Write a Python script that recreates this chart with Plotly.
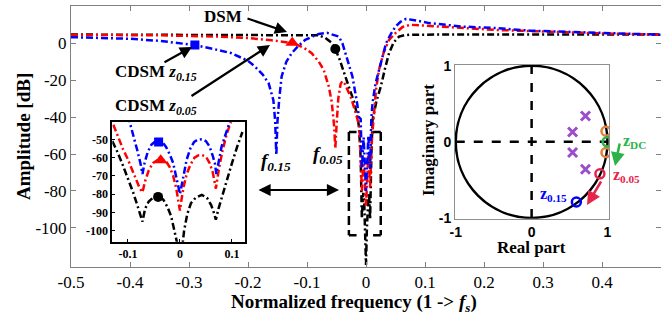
import plotly.graph_objects as go

# ---------------- data ----------------
# main plot: normalized frequency vs amplitude [dB]
dsm_f = [-0.5, -0.3, -0.15, -0.1, -0.08, -0.069, -0.058, -0.052, -0.045, -0.035, -0.027, -0.02,
         -0.015, -0.012, -0.009, -0.007, -0.0055, -0.0045, -0.003, -0.0015, 0.0, 0.0015, 0.003,
         0.0045, 0.0055, 0.007, 0.009, 0.011, 0.018, 0.025, 0.032, 0.039, 0.047, 0.056, 0.065,
         0.075, 0.12, 0.3, 0.5]
dsm_db = [4.7, 4.7, 4.7, 4.6, 4.3, 2.9, 0.2, -3.1, -8.5, -18.0, -25.0, -32.0,
          -39.0, -45.0, -62.0, -95.0, -84.0, -81.0, -86.0, -100.0, -120.0, -100.0, -86.0,
          -81.0, -84.0, -95.0, -62.0, -41.7, -31.0, -23.6, -14.0, -5.4, 0.5, 3.6, 4.3,
          4.6, 4.7, 4.7, 4.7]

c05_f = [-0.5, -0.35, -0.25, -0.2, -0.16, -0.123, -0.105, -0.092, -0.08, -0.0716, -0.063, -0.058,
         -0.054, -0.052, -0.05, -0.047, -0.043, -0.04, -0.036, -0.03, -0.026, -0.02, -0.015,
         -0.012, -0.01, -0.007, -0.004, 0.0, 0.004, 0.007, 0.01, 0.013, 0.017, 0.022, 0.03,
         0.039, 0.05, 0.062, 0.075, 0.1, 0.22, 0.39, 0.5]
c05_db = [4.5, 4.3, 3.6, 2.8, 1.6, 0.0, -2.5, -5.4, -10.0, -14.5, -23.5, -32.0,
          -45.0, -57.0, -45.0, -30.0, -22.0, -20.5, -22.0, -26.0, -29.0, -35.0, -40.0,
          -44.0, -52.0, -80.0, -62.0, -88.0, -60.0, -78.0, -52.0, -40.0, -25.0, -14.5, -5.0,
          1.8, 5.5, 8.8, 10.0, 9.5, 7.2, 5.4, 4.6]

c15_f = [-0.5, -0.45, -0.4, -0.35, -0.29, -0.26, -0.228, -0.2, -0.188, -0.175, -0.165, -0.157,
         -0.154, -0.152, -0.15, -0.147, -0.143, -0.135, -0.126, -0.115, -0.103, -0.09, -0.08,
         -0.066, -0.056, -0.046, -0.04, -0.035, -0.029, -0.023, -0.015, -0.012, -0.009, -0.007,
         -0.004, 0.0, 0.004, 0.007, 0.009, 0.011, 0.016, 0.022, 0.028, 0.034, 0.042, 0.05,
         0.058, 0.068, 0.09, 0.107, 0.164, 0.221, 0.278, 0.334, 0.39, 0.5]
c15_db = [3.3, 3.0, 2.4, 1.3, -1.0, -3.0, -5.4, -9.5, -12.7, -17.0, -21.7, -30.8,
          -42.0, -60.7, -42.0, -30.0, -18.0, -10.0, -5.4, -1.5, 1.8, 3.8, 5.0,
          5.6, 4.8, 3.6, 0.0, -5.4, -11.5, -18.0, -32.6, -40.0, -41.0, -68.0,
          -51.0, -80.0, -50.0, -68.0, -41.0, -32.6, -22.0, -14.5, -6.0, 0.0, 5.0, 9.0,
          11.5, 13.2, 12.0, 10.9, 9.0, 8.2, 6.8, 6.3, 5.4, 4.6]

# main markers
mk_f = {"z15": -0.29, "z05": -0.125, "dsm": -0.052}
mk_db = {"z15": -1.0, "z05": 0.3, "dsm": -3.1}

# zoomed inset (inset frequency units)
in_dsm_f = [-0.13, -0.12, -0.11, -0.1, -0.09, -0.082, -0.077, -0.072, -0.067, -0.06, -0.052, -0.042,
            -0.032, -0.024, -0.017, -0.011, -0.006, -0.003, 0.0, 0.004, 0.008, 0.014, 0.021, 0.03,
            0.042, 0.052, 0.06, 0.065, 0.069, 0.074, 0.082, 0.09, 0.1, 0.11, 0.12]
in_dsm_db = [-51, -57, -64, -71, -79, -86, -91, -95, -88, -84, -82, -81,
             -83, -87, -92, -99, -106, -112, -120, -110, -100, -91, -85, -82,
             -80.4, -82, -86, -90, -94, -88, -80, -72, -63, -54, -46]

in_c05_f = [-0.128, -0.12, -0.11, -0.1, -0.09, -0.082, -0.077, -0.072, -0.067, -0.06, -0.052, -0.044,
            -0.035, -0.027, -0.02, -0.013, -0.007, -0.003, 0.0, 0.003, 0.007, 0.013, 0.02, 0.028,
            0.035, 0.042, 0.05, 0.057, 0.063, 0.069, 0.075, 0.082, 0.09, 0.096, 0.1]
in_c05_db = [-42, -48, -55, -61, -68, -73, -77, -79, -73, -67, -63, -61.5,
             -61, -62, -65, -70, -77, -84, -89, -83, -76, -69, -64, -60,
             -58.8, -58.6, -59.5, -63, -68, -77, -66, -56, -47, -42, -39]

in_c15_f = [-0.1, -0.096, -0.09, -0.082, -0.076, -0.072, -0.068, -0.062, -0.055, -0.048, -0.041,
            -0.034, -0.027, -0.02, -0.013, -0.007, -0.003, 0.0, 0.003, 0.007, 0.013, 0.02, 0.027,
            0.034, 0.042, 0.05, 0.057, 0.063, 0.067, 0.07, 0.074, 0.08, 0.088, 0.096, 0.1]
in_c15_db = [-37, -41, -47, -56, -63, -69, -63, -57, -53, -51.3, -50.8,
             -51.5, -54, -58, -63, -70, -76, -80, -76, -69, -61, -55, -51.5,
             -50.2, -50, -51, -54, -59, -63, -69, -62, -54, -47, -41, -37]

in_mk_f = {"z15": -0.041, "z05": -0.037, "dsm": -0.042}
in_mk_db = {"z15": -51.5, "z05": -61.5, "dsm": -81.5}

# pole-zero map
pole_re = [0.71, 0.54, 0.54, 0.71]
pole_im = [0.34, 0.13, -0.14, -0.36]
zero_dsm_re = [0.98, 0.98]
zero_dsm_im = [0.14, -0.14]
zero_dc = (0.995, 0.0)
zero_05 = (0.90, -0.42)
zero_15 = (0.59, -0.79)

main_xticks = [-0.5, -0.4, -0.3, -0.2, -0.1, 0.0, 0.1, 0.2, 0.3, 0.4, 0.5]
main_xlabels = ["-0.5", "-0.4", "-0.3", "-0.2", "-0.1", "0", "0.1", "0.2", "0.3", "0.4", "0.5"]
main_yticks = [-100, -80, -60, -40, -20, 0, 20]
main_ylabels = ["-100", "-80", "-60", "-40", "-20", "0", "20"]
in_xticks = [-0.1, 0.0, 0.1]
in_xlabels = ["-0.1", "0", "0.1"]
in_yticks = [-100, -90, -80, -70, -60, -50]
in_ylabels = ["-100", "-90", "-80", "-70", "-60", "-50"]
pz_ticks = [-1, 0, 1]
pz_labels = ["-1", "0", "1"]

# ---------------- styling ----------------
W, H = 661, 320
def PX(x):
    return x / W
def PY(y):
    return 1 - y / H

BLUE, RED, BLACK = "#0000FF", "#FF0000", "#000000"
PURPLE, ORANGE, GREEN, CRIMSON = "#9B4DCA", "#E5803C", "#2BB34A", "#E6244A"
DASH = "7px,3px,2px,3px"
SERIF = "Liberation Serif, Times New Roman, Times, serif"
SANS = "Liberation Sans, Arial, sans-serif"

fig = go.Figure()

def line(x, y, color, xa, ya, w=2.5):
    fig.add_trace(go.Scatter(x=x, y=y, mode="lines", xaxis=xa, yaxis=ya,
                             line=dict(color=color, width=w, dash=DASH),
                             hoverinfo="skip", showlegend=False))

def mark(x, y, color, sym, size, xa, ya):
    fig.add_trace(go.Scatter(x=[x], y=[y], mode="markers", xaxis=xa, yaxis=ya,
                             marker=dict(color=color, symbol=sym, size=size,
                                         line=dict(width=0)),
                             hoverinfo="skip", showlegend=False))

# main curves
line(dsm_f, dsm_db, BLACK, "x", "y")
line(c05_f, c05_db, RED, "x", "y")
line(c15_f, c15_db, BLUE, "x", "y")
mark(mk_f["z15"], mk_db["z15"], BLUE, "square", 9, "x", "y")
mark(mk_f["z05"], mk_db["z05"], RED, "triangle-up", 12, "x", "y")
mark(mk_f["dsm"], mk_db["dsm"], BLACK, "circle", 10, "x", "y")

# inset curves
line(in_dsm_f, in_dsm_db, BLACK, "x2", "y2")
line(in_c05_f, in_c05_db, RED, "x2", "y2")
line(in_c15_f, in_c15_db, BLUE, "x2", "y2")
mark(in_mk_f["z15"], in_mk_db["z15"], BLUE, "square", 9, "x2", "y2")
mark(in_mk_f["z05"], in_mk_db["z05"], RED, "triangle-up", 12, "x2", "y2")
mark(in_mk_f["dsm"], in_mk_db["dsm"], BLACK, "circle", 10, "x2", "y2")

# pole-zero
def pz(xs, ys, color, sym, size, lw):
    fig.add_trace(go.Scatter(x=xs, y=ys, mode="markers", xaxis="x3", yaxis="y3",
                             marker=dict(symbol=sym, size=size, color=color,
                                         line=dict(color=color, width=lw)),
                             hoverinfo="skip", showlegend=False))
pz(pole_re, pole_im, PURPLE, "x-thin", 9, 3)
pz(zero_dsm_re, zero_dsm_im, ORANGE, "circle-open", 9, 2.5)
pz([zero_dc[0]], [zero_dc[1]], GREEN, "circle-open", 9, 2.5)
pz([zero_05[0]], [zero_05[1]], CRIMSON, "circle-open", 9, 2.5)
pz([zero_15[0]], [zero_15[1]], BLUE, "circle-open", 9, 2.5)

tickfont = dict(family=SERIF, size=17, color="black")
fig.update_layout(
    width=W, height=H, margin=dict(l=0, r=0, t=0, b=0, pad=0, autoexpand=False),
    paper_bgcolor="white", plot_bgcolor="white", showlegend=False,
    xaxis=dict(domain=[PX(71), 1.0], range=[-0.5, 0.5], anchor="y",
               tickvals=main_xticks, ticktext=main_xlabels, tickfont=tickfont,
               ticks="inside", ticklen=5, tickcolor="#808080",
               showline=True, linecolor="#808080", linewidth=1, mirror="ticks",
               showgrid=False, zeroline=False, automargin=False),
    yaxis=dict(domain=[PY(266.7), PY(6.3)], range=[-121, 20], anchor="x",
               tickvals=main_yticks, ticktext=main_ylabels, tickfont=tickfont,
               ticks="inside", ticklen=5, tickcolor="#808080",
               showline=True, linecolor="#808080", linewidth=1, mirror="ticks",
               showgrid=False, zeroline=False, automargin=False),
    xaxis2=dict(domain=[PX(112.3), PX(245)], range=[-0.13, 0.125], anchor="y2",
                tickvals=in_xticks, ticktext=in_xlabels,
                tickfont=dict(family=SERIF, size=12, color="black", weight="bold"),
                ticks="inside", ticklen=3, tickcolor="black",
                showline=True, linecolor="black", linewidth=2, mirror=True,
                showgrid=False, zeroline=False, automargin=False),
    yaxis2=dict(domain=[PY(241.7), PY(122.3)], range=[-106, -40.7], anchor="x2",
                tickvals=in_yticks, ticktext=in_ylabels,
                tickfont=dict(family=SERIF, size=12, color="black", weight="bold"),
                ticks="inside", ticklen=3, tickcolor="black",
                showline=True, linecolor="black", linewidth=2, mirror=True,
                showgrid=False, zeroline=False, automargin=False),
    xaxis3=dict(domain=[PX(455), PX(609)], range=[-1.01, 1.02], anchor="y3",
                tickvals=pz_ticks, ticktext=pz_labels,
                tickfont=dict(family=SANS, size=14, color="black", weight="bold"),
                ticks="", showline=True, linecolor="#909090", linewidth=1, mirror=True,
                showgrid=False, zeroline=False, automargin=False),
    yaxis3=dict(domain=[PY(218.7), PY(65)], range=[-1.01, 1.01], anchor="x3",
                tickvals=pz_ticks, ticktext=pz_labels,
                tickfont=dict(family=SANS, size=14, color="black", weight="bold"),
                ticks="", showline=True, linecolor="#909090", linewidth=1, mirror=True,
                showgrid=False, zeroline=False, automargin=False),
)

shapes = []
# unit circle and dashed axes in the pole-zero map
shapes.append(dict(type="circle", xref="x3", yref="y3", x0=-1, y0=-1, x1=1, y1=1,
                   line=dict(color="black", width=2.5), layer="below"))
shapes.append(dict(type="line", xref="x3", yref="y3", x0=-1, y0=0, x1=1, y1=0,
                   line=dict(color="black", width=2.5, dash="dash"), layer="below"))
shapes.append(dict(type="line", xref="x3", yref="y3", x0=0, y0=-1, x1=0, y1=1,
                   line=dict(color="black", width=2.5, dash="dash"), layer="below"))
# bracket around the notch region
bl, br, bt, bb, serif_w = -0.029, 0.025, -48, -104, 0.013
for (x0, x1, y0, y1) in [(bl, bl, bt, bb), (bl, bl + serif_w, bt, bt), (bl, bl + serif_w, bb, bb),
                         (br, br, bt, bb), (br - serif_w, br, bt, bt), (br - serif_w, br, bb, bb)]:
    shapes.append(dict(type="line", xref="x", yref="y", x0=x0, x1=x1, y0=y0, y1=y1,
                       line=dict(color="black", width=2.5, dash="9px,5px")))
fig.update_layout(shapes=shapes)

ann = []
def text(x, y, s, size=17, color="black", bold=True, angle=0, font=SERIF):
    ann.append(dict(xref="paper", yref="paper", x=PX(x), y=PY(y), text=s, showarrow=False,
                    xanchor="center", yanchor="middle", textangle=angle,
                    font=dict(family=font, size=size, color=color,
                              weight="bold" if bold else "normal")))

def arrow(xh, yh, xt, yt, both=False, color="black", width=2.2):
    ann.append(dict(xref="paper", yref="paper", x=PX(xh), y=PY(yh),
                    axref="pixel", ayref="pixel", ax=xt - xh, ay=yt - yh,
                    text="", showarrow=True, arrowhead=2, arrowsize=1.1,
                    startarrowhead=2, startarrowsize=1.1,
                    arrowside="end+start" if both else "end",
                    arrowwidth=width, arrowcolor=color))

# axis titles
text(23, 137, "Amplitude [dB]", size=19, angle=-90)
text(354, 303, "Normalized frequency (1 -&gt; <i>f<sub>s</sub></i>)", size=19)
# main labels
text(223, 17, "DSM", size=17)
arrow(287, 32, 246, 18)
text(156, 73, "CDSM <i>z<sub>0.15</sub></i>", size=17)
arrow(192, 47, 163, 63)
text(156, 107, "CDSM <i>z<sub>0.05</sub></i>", size=17)
arrow(270, 45, 190, 97)
text(276, 162, "<i>f<sub>0.15</sub></i>", size=19)
text(328, 155, "<i>f<sub>0.05</sub></i>", size=19)
arrow(339, 190, 257, 190, both=True)
# pole-zero texts
text(531.7, 247, "Real part", size=17)
text(428, 140, "Imaginary part", size=17, angle=-90)
text(634, 141, "z<sub>DC</sub>", size=16, color=GREEN)
text(626, 175, "z<sub>0.05</sub>", size=16, color=CRIMSON)
text(553, 194, "z<sub>0.15</sub>", size=16, color=BLUE)
arrow(615, 166, 620, 142, color=GREEN, width=2.5)
arrow(587, 205, 602, 180, color=CRIMSON, width=2.5)
fig.update_layout(annotations=ann)

fig.write_html("out.html", config={"displayModeBar": False},
               post_script="document.body.style.margin='0px';document.body.style.padding='0px';")
